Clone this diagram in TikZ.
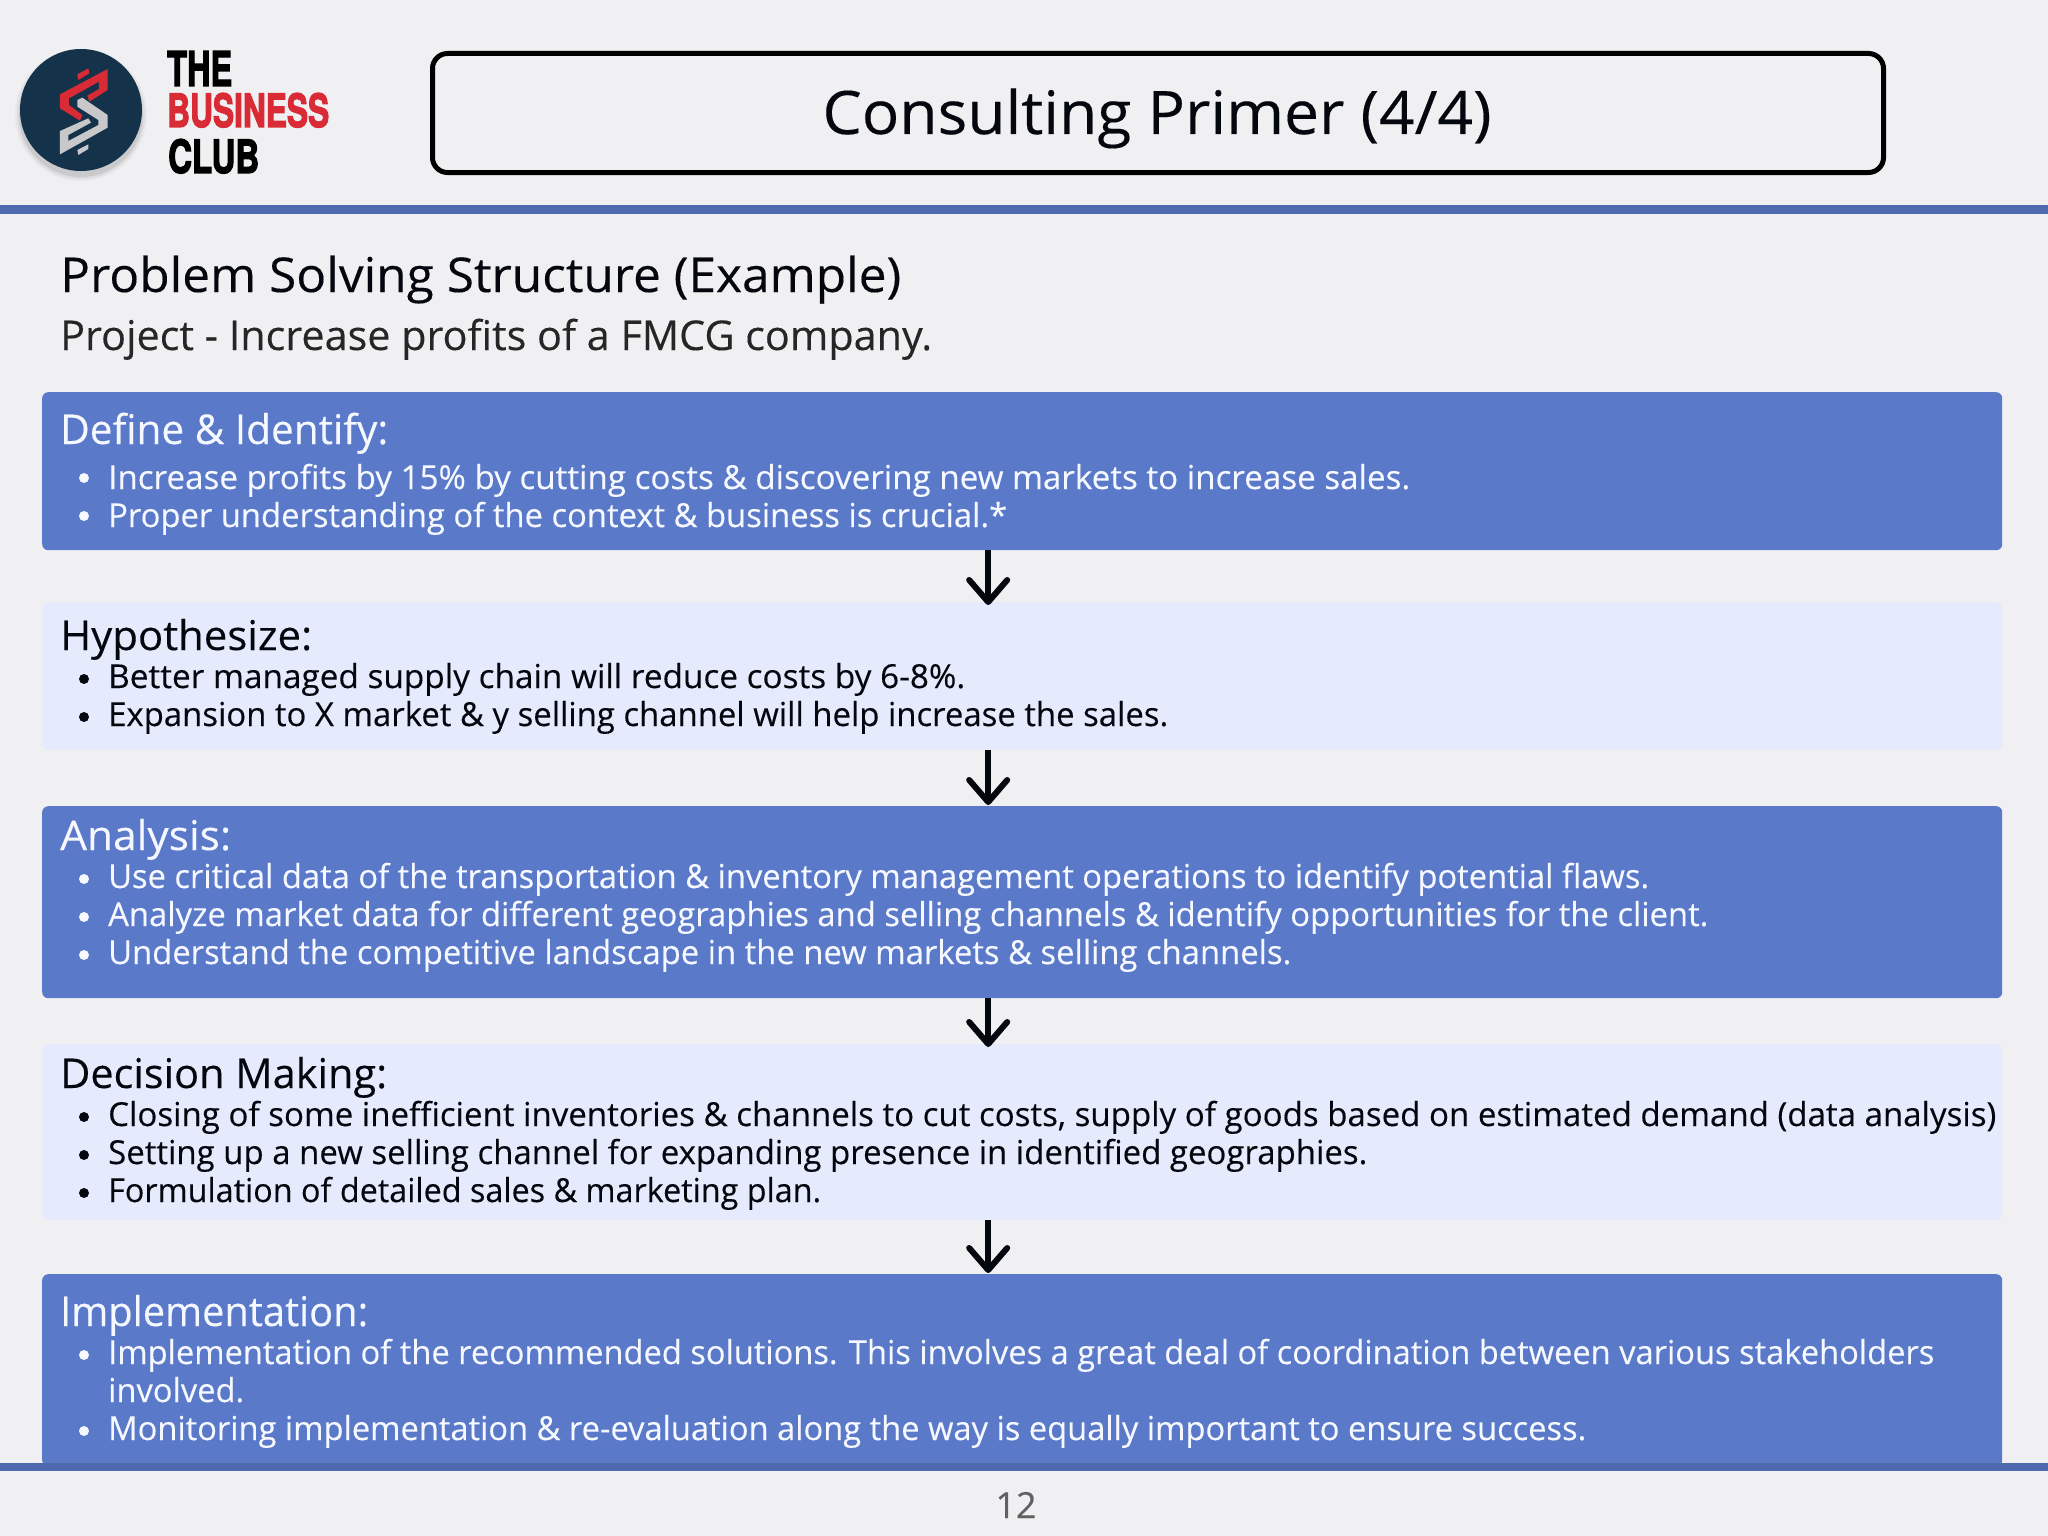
\documentclass[tikz,border=0pt]{standalone}
\usepackage{graphicx}
\usepackage{fontspec}
\setmainfont[FakeBold=0.25]{Open Sans}
\newfontfamily\logofont[BoldFeatures={FakeBold=3}]{TeX Gyre Heros}
\usetikzlibrary{arrows.meta}
\definecolor{pagebg}{HTML}{F0F0F2}
\definecolor{darkbox}{HTML}{5B79C9}
\definecolor{lightbox}{HTML}{E5EAFD}
\definecolor{rulecol}{HTML}{4F6AAE}
\definecolor{softwhite}{HTML}{F5F8FF}
\definecolor{inkblack}{HTML}{05070F}
\definecolor{logonavy}{HTML}{14324A}
\definecolor{logored}{HTML}{D92B35}
\definecolor{logogray}{HTML}{C8C8CA}
\tikzset{
  band/.style={rectangle,rounded corners=6pt,minimum width=1960pt,inner sep=0pt,anchor=north west},
  darkband/.style={band,fill=darkbox},
  lightband/.style={band,fill=lightbox},
  line/.style={inner sep=0pt,anchor=base west,font=\fontsize{33}{38}\selectfont},
  head/.style={inner sep=0pt,anchor=base west,font=\fontsize{41}{46}\selectfont},
  flow/.style={line width=6pt,inkblack,-{Straight Barb[length=22pt,width=38pt,round]}},
  dot/.style={circle,inner sep=0pt,minimum size=10pt},
  logotext/.style={inner sep=0pt,anchor=base west,font=\fontsize{48}{50}\selectfont},
}
\newcommand{\fitw}[2]{\resizebox{#1pt}{\height}{#2}}
\newcommand{\fith}[3]{\resizebox{#1pt}{#2pt}{\logofont\bfseries #3}}
\begin{document}
\begin{tikzpicture}[x=1pt,y=-1pt]
\useasboundingbox (0,0) rectangle (2048,1536);
\fill[pagebg] (0,0) rectangle (2048,1536);
% bands
\node[darkband,minimum height=158pt] (b1) at (42,392) {};
\node[lightband,minimum height=148pt] (b2) at (42,602) {};
\node[darkband,minimum height=192pt] (b3) at (42,806) {};
\node[lightband,minimum height=176pt] (b4) at (42,1044) {};
\node[darkband,minimum height=192pt] (b5) at (42,1274) {};
% rules
\fill[rulecol] (0,205) rectangle (2048,214);
\fill[rulecol] (0,1463) rectangle (2048,1471);
% logo
\foreach \r/\o in {66/.03,64/.05,62/.08}{\fill[black,opacity=\o] (81,115) circle (\r);}
\node[circle,fill=logonavy,minimum size=122pt,inner sep=0pt] (logo) at (81,110) {};
\begin{scope}[shift={(45,55)},x=.3333pt,y=-.3333pt]
\fill[logored] (188,42)--(188,105)--(133,140)--(127,122)--(162,102)--(162,80)--(72,130)--(72,150)--(112,180)--(105,197)--(45,160)--(45,118)--cycle;
\fill[logored] (97,58)--(130,40)--(133,55)--(100,75)--cycle;
\fill[logogray] (97,135)--(112,128)--(188,180)--(188,218)--(45,298)--(45,228)--(130,190)--(138,203)--(70,240)--(70,258)--(160,210)--(160,195)--(97,155)--cycle;
\fill[logogray] (97,285)--(130,268)--(130,282)--(100,300)--cycle;
\end{scope}
\node[logotext] (lthe) at (167,86) {\fith{65}{35}{THE}};
\node[logotext,text=logored] (lbus) at (167,127) {\fith{162}{34}{BUSINESS}};
\node[logotext] (lclub) at (168,173) {\fith{91}{34}{CLUB}};
% title
\node[rectangle,draw=black,line width=5pt,rounded corners=15pt,minimum width=1451pt,minimum height=119pt,inner sep=0pt,anchor=north west] (titlebox) at (430,51) {};
\node[inner sep=0pt,anchor=base,font=\fontsize{60}{66}\selectfont,text=inkblack] (titletext) at (1157,134) {\fitw{669}{Consulting Primer (4/4)}};
\node[inner sep=0pt,anchor=base west,font=\fontsize{48}{54}\selectfont,text=inkblack] (sub1) at (60,292) {\fitw{841}{Problem Solving Structure (Example)}};
\node[inner sep=0pt,anchor=base west,font=\fontsize{41}{46}\selectfont,text=black!85] (sub2) at (60,350) {\fitw{872}{Project - Increase profits of a FMCG company.}};
% band 1
\node[head,text=softwhite] (h1) at (60,444) {\fitw{328}{Define \& Identify:}};
\node[line,text=softwhite] (l11) at (108,489) {\fitw{1302}{Increase profits by 15\% by cutting costs \& discovering new markets to increase sales.}};
\node[line,text=softwhite] (l12) at (108,527) {\fitw{899}{Proper understanding of the context \& business is crucial.*}};
% band 2
\node[head,text=inkblack] (h2) at (60,650) {\fitw{252}{Hypothesize:}};
\node[line,text=inkblack] (l21) at (108,688) {\fitw{857}{Better managed supply chain will reduce costs by 6-8\%.}};
\node[line,text=inkblack] (l22) at (108,726) {\fitw{1060}{Expansion to X market \& y selling channel will help increase the sales.}};
% band 3
\node[head,text=softwhite] (h3) at (60,850) {\fitw{171}{Analysis:}};
\node[line,text=softwhite] (l31) at (108,888) {\fitw{1541}{Use critical data of the transportation \& inventory management operations to identify potential flaws.}};
\node[line,text=softwhite] (l32) at (108,926) {\fitw{1600}{Analyze market data for different geographies and selling channels \& identify opportunities for the client.}};
\node[line,text=softwhite] (l33) at (108,964) {\fitw{1183}{Understand the competitive landscape in the new markets \& selling channels.}};
% band 4
\node[head,text=inkblack] (h4) at (60,1088) {\fitw{327}{Decision Making:}};
\node[line,text=inkblack] (l41) at (108,1126) {\fitw{1888}{Closing of some inefficient inventories \& channels to cut costs, supply of goods based on estimated demand (data analysis)}};
\node[line,text=inkblack] (l42) at (108,1164) {\fitw{1259}{Setting up a new selling channel for expanding presence in identified geographies.}};
\node[line,text=inkblack] (l43) at (108,1202) {\fitw{713}{Formulation of detailed sales \& marketing plan.}};
% band 5
\node[head,text=softwhite] (h5) at (60,1326) {\fitw{308}{Implementation:}};
\node[line,text=softwhite] (l51) at (108,1364) {\fitw{1826}{Implementation of the recommended solutions. This involves a great deal of coordination between various stakeholders}};
\node[line,text=softwhite] (l52) at (108,1402) {\fitw{136}{involved.}};
\node[line,text=softwhite] (l53) at (108,1440) {\fitw{1478}{Monitoring implementation \& re-evaluation along the way is equally important to ensure success.}};
% bullets
\foreach \n/\y in {a/478,b/516,c/879,d/917,e/955,f/1355,g/1431}
  \node[dot,fill=softwhite] (dot\n) at (84,\y) {};
\foreach \n/\y in {h/679,i/717,j/1117,k/1155,l/1193}
  \node[dot,fill=inkblack] (dot\n) at (84,\y) {};
% connectors
\draw[flow,shorten >=-3pt] ([xshift=-34pt]b1.south) -- ([xshift=-34pt]b2.north);
\draw[flow,shorten >=1pt] ([xshift=-34pt]b2.south) -- ([xshift=-34pt]b3.north);
\draw[flow,shorten >=-3pt] ([xshift=-34pt]b3.south) -- ([xshift=-34pt]b4.north);
\draw[flow,shorten >=1pt] ([xshift=-34pt]b4.south) -- ([xshift=-34pt]b5.north);
% page number
\node[inner sep=0pt,anchor=base,font=\fontsize{36}{40}\selectfont,text=black!62] (pageno) at (1016,1518) {12};
\end{tikzpicture}
\end{document}
